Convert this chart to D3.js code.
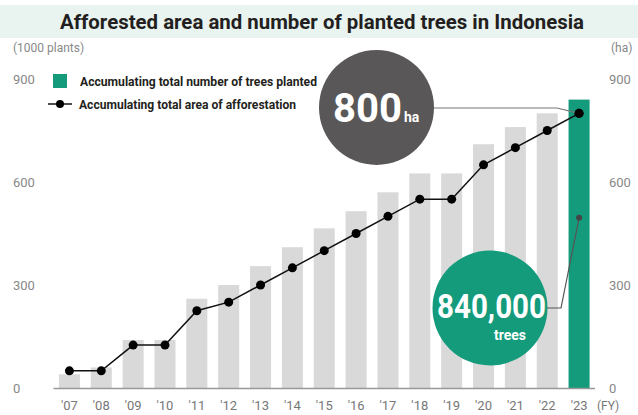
<!DOCTYPE html>
<html>
<head>
<meta charset="utf-8">
<script src="https://cdn.jsdelivr.net/npm/d3@7"></script>
<style>
  body { margin: 0; background: #fff; }
  svg { display: block; font-family: Roboto, "Noto Sans", sans-serif; }
</style>
</head>
<body>
<svg width="638" height="415"></svg>
<script>
var years = ["'07", "'08", "'09", "'10", "'11", "'12", "'13", "'14", "'15", "'16", "'17", "'18", "'19", "'20", "'21", "'22", "'23"];
var trees = [40, 60, 140, 140, 260, 300, 355, 410, 465, 515, 570, 625, 625, 710, 760, 800, 840];
var area = [50, 50, 125, 125, 225, 250, 300, 350, 400, 450, 500, 550, 550, 650, 700, 750, 800];
var yTicks = [0, 300, 600, 900];

var green = '#149b7c';
var svg = d3.select('svg');

var x = d3.scaleBand()
  .domain(years)
  .range([53.5, 595])
  .paddingInner(0.34)
  .paddingOuter(0.17);
var y = d3.scaleLinear().domain([0, 900]).range([388, 79]);

// title band
svg.append('rect')
  .attr('x', 0).attr('y', 5)
  .attr('width', 638).attr('height', 33)
  .attr('fill', '#e9f3f0');
svg.append('text')
  .attr('x', 322).attr('y', 28.5)
  .attr('text-anchor', 'middle')
  .attr('font-size', 20).attr('font-weight', 'bold')
  .attr('fill', '#231f20')
  .attr('textLength', 524).attr('lengthAdjust', 'spacingAndGlyphs')
  .text('Afforested area and number of planted trees in Indonesia');

// unit labels
svg.append('text')
  .attr('x', 13).attr('y', 52)
  .attr('font-size', 12).attr('fill', '#888')
  .text('(1000 plants)');
svg.append('text')
  .attr('x', 611).attr('y', 52)
  .attr('font-size', 12).attr('fill', '#888')
  .text('(ha)');

// y tick labels both sides
svg.selectAll('.ytl')
  .data(yTicks)
  .enter()
  .append('text')
  .attr('class', 'ytl')
  .attr('x', 13)
  .attr('y', function(d) { return y(d) + 5; })
  .attr('font-size', 13).attr('fill', '#888')
  .text(function(d) { return d; });
svg.selectAll('.ytr')
  .data(yTicks)
  .enter()
  .append('text')
  .attr('class', 'ytr')
  .attr('x', 609)
  .attr('y', function(d) { return y(d) + 5; })
  .attr('font-size', 13).attr('fill', '#888')
  .text(function(d) { return d; });

// bars
svg.selectAll('.bar')
  .data(trees)
  .enter()
  .append('rect')
  .attr('class', 'bar')
  .attr('x', function(d, i) { return x(years[i]); })
  .attr('width', x.bandwidth())
  .attr('y', function(d) { return y(d); })
  .attr('height', function(d) { return y(0) - y(d); })
  .attr('fill', function(d, i) { return i === years.length - 1 ? green : '#d9d9d9'; });

// x axis line
svg.append('line')
  .attr('x1', 53.5).attr('x2', 595)
  .attr('y1', y(0) + 0.5).attr('y2', y(0) + 0.5)
  .attr('stroke', '#999').attr('stroke-width', 1.5);

svg.selectAll('.xl')
  .data(years)
  .enter()
  .append('text')
  .attr('class', 'xl')
  .attr('x', function(d) { return x(d) + x.bandwidth() / 2; })
  .attr('y', 410)
  .attr('text-anchor', 'middle')
  .attr('font-size', 13).attr('fill', '#777')
  .text(function(d) { return d; });
svg.append('text')
  .attr('x', 597).attr('y', 410)
  .attr('font-size', 12).attr('fill', '#777')
  .text('(FY)');

// line
var cx = function(d, i) { return x(years[i]) + x.bandwidth() / 2; };
var line = d3.line()
  .x(cx)
  .y(function(d) { return y(d); });
svg.append('path')
  .datum(area)
  .attr('d', line)
  .attr('fill', 'none')
  .attr('stroke', '#111').attr('stroke-width', 1.5);
svg.selectAll('.dot')
  .data(area)
  .enter()
  .append('circle')
  .attr('class', 'dot')
  .attr('cx', cx)
  .attr('cy', function(d) { return y(d); })
  .attr('r', 4.5)
  .attr('fill', '#000');

// legend
svg.append('rect')
  .attr('x', 53).attr('y', 74)
  .attr('width', 14).attr('height', 14)
  .attr('fill', green);
svg.append('text')
  .attr('x', 80).attr('y', 86)
  .attr('font-size', 12).attr('font-weight', 'bold').attr('fill', '#231f20')
  .attr('textLength', 237).attr('lengthAdjust', 'spacingAndGlyphs')
  .text('Accumulating total number of trees planted');
svg.append('line')
  .attr('x1', 48).attr('x2', 72)
  .attr('y1', 104).attr('y2', 104)
  .attr('stroke', '#111').attr('stroke-width', 1.5);
svg.append('circle')
  .attr('cx', 60).attr('cy', 104).attr('r', 4)
  .attr('fill', '#000');
svg.append('text')
  .attr('x', 79).attr('y', 108.5)
  .attr('font-size', 12).attr('font-weight', 'bold').attr('fill', '#231f20')
  .attr('textLength', 217).attr('lengthAdjust', 'spacingAndGlyphs')
  .text('Accumulating total area of afforestation');

// callout: area
var last = years.length - 1;
var lx = x(years[last]) + x.bandwidth() / 2;
svg.append('polyline')
  .attr('points', [[434, 108], [557, 108], [lx, y(area[last])]].join(' '))
  .attr('fill', 'none').attr('stroke', '#777').attr('stroke-width', 1.2);
svg.append('circle')
  .attr('cx', 376.5).attr('cy', 107.5).attr('r', 57.5)
  .attr('fill', '#595757');
svg.append('text')
  .attr('x', 333).attr('y', 122)
  .attr('font-size', 40).attr('font-weight', 'bold').attr('fill', '#fff')
  .attr('textLength', 69).attr('lengthAdjust', 'spacingAndGlyphs')
  .text(area[last]);
svg.append('text')
  .attr('x', 404).attr('y', 122)
  .attr('font-size', 14).attr('font-weight', 'bold').attr('fill', '#fff')
  .text('ha');
// re-draw the last dot over the leader line
svg.append('circle')
  .attr('cx', lx).attr('cy', y(area[last])).attr('r', 4.5)
  .attr('fill', '#000');

// callout: trees
var ty = y(trees[last] * 0.59);
svg.append('polyline')
  .attr('points', [[545, 308], [561, 308], [lx, ty]].join(' '))
  .attr('fill', 'none').attr('stroke', '#555').attr('stroke-width', 1.2);
svg.append('circle')
  .attr('cx', lx).attr('cy', ty).attr('r', 3)
  .attr('fill', '#444');
svg.append('circle')
  .attr('cx', 490).attr('cy', 308).attr('r', 57.5)
  .attr('fill', green);
svg.append('text')
  .attr('x', 437).attr('y', 318)
  .attr('font-size', 34).attr('font-weight', 'bold').attr('fill', '#fff')
  .attr('textLength', 109).attr('lengthAdjust', 'spacingAndGlyphs')
  .text(d3.format(',')(trees[last] * 1000));
svg.append('text')
  .attr('x', 510).attr('y', 340)
  .attr('text-anchor', 'middle')
  .attr('font-size', 14).attr('font-weight', 'bold').attr('fill', '#fff')
  .text('trees');
</script>
</body>
</html>
